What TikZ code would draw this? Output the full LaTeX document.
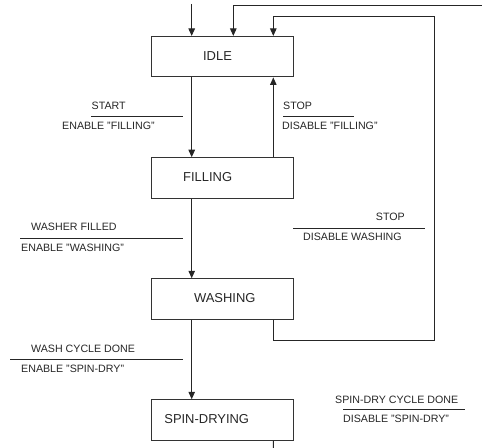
\documentclass[tikz,border=0pt]{standalone}
\usepackage{fontspec}
\setmainfont{Liberation Sans}
\usetikzlibrary{arrows.meta}
\begin{document}
\begin{tikzpicture}[x=1bp,y=-1bp,
  state/.style={draw=black!80,line width=1.1bp,minimum width=141.6bp,minimum height=40.4bp,inner sep=0pt},
  stext/.style={font=\fontsize{13}{15}\selectfont,inner sep=0pt,text=black!85},
  lbl/.style={font=\fontsize{10.7}{12}\selectfont,inner sep=0pt,anchor=west,text=black!85},
  flow/.style={draw=black!85,line width=1bp,-{Triangle[width=6.5bp,length=7.5bp]}},
  wire/.style={draw=black!85,line width=1bp},
  bar/.style={draw=black!85,line width=0.9bp}]
\useasboundingbox (0,0) rectangle (482,448);
% states
\node[state] (idle) at (222.5,56.7) {};
\node[stext] (idlet) at (217.5,56) {IDLE};
\node[state] (filling) at (222.5,178) {};
\node[stext] (fillingt) at (207.7,177.5) {FILLING};
\node[state] (washing) at (222.5,299) {};
\node[stext] (washingt) at (224.8,298.5) {WASHING};
\node[state] (spin) at (222.5,420) {};
\node[stext] (spint) at (206.7,419.5) {SPIN-DRYING};
% free ends
\coordinate (in1) at (191.7,4);
\coordinate (in2) at (484,6);
\coordinate (ret) at (434,16.7);
\coordinate (out) at (273.3,450);
% connectors
\draw[flow] (in1) -- (in1 |- idle.north);
\draw[flow] (in2) -| ([xshift=10.8bp]idle.north);
\draw[flow] ([xshift=-30.8bp]idle.south) -- ([xshift=-30.8bp]filling.north);
\draw[flow] ([xshift=50.8bp]filling.north) -- ([xshift=50.8bp]idle.south);
\draw[flow] ([xshift=-30.8bp]filling.south) -- ([xshift=-30.8bp]washing.north);
\draw[flow] ([xshift=-30.8bp]washing.south) -- ([xshift=-30.8bp]spin.north);
\draw[flow] ([xshift=50.8bp]washing.south) -- ++(0,20.3) -| (ret) -| ([xshift=50.8bp]idle.north);
\draw[wire] ([xshift=50.8bp]spin.south) -- (out);
% transition labels
\node[lbl] (l1a) at (91.5,106) {START};
\draw[bar] (91,116.7) -- (182.7,116.7);
\node[lbl] (l1b) at (62,126.3) {ENABLE "FILLING"};
\node[lbl] (l2a) at (283,106) {STOP};
\draw[bar] (283,116.7) -- (354,116.7);
\node[lbl] (l2b) at (282,126.3) {DISABLE "FILLING"};
\node[lbl] (l3a) at (31,227) {WASHER FILLED};
\draw[bar] (20,238.7) -- (183,238.7);
\node[lbl] (l3b) at (21,247.5) {ENABLE "WASHING"};
\node[lbl,anchor=east] (l4a) at (405,216.7) {STOP};
\draw[bar] (293,228.3) -- (425,228.3);
\node[lbl] (l4b) at (303,237.2) {DISABLE WASHING};
\node[lbl] (l5a) at (31,348.7) {WASH CYCLE DONE};
\draw[bar] (10,359.3) -- (183,359.3);
\node[lbl] (l5b) at (21,368.7) {ENABLE "SPIN-DRY"};
\node[lbl] (l6a) at (335,399.5) {SPIN-DRY CYCLE DONE};
\draw[bar] (343,409.3) -- (465,409.3);
\node[lbl] (l6b) at (343,418.7) {DISABLE "SPIN-DRY"};
\end{tikzpicture}
\end{document}
